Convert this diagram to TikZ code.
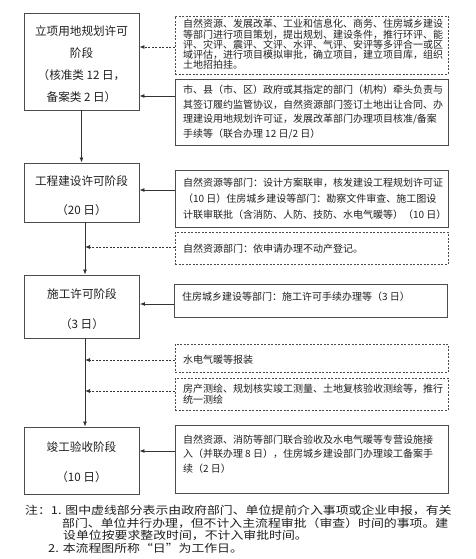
\documentclass[tikz,border=0pt]{standalone}
\usepackage{fontspec}
\usetikzlibrary{arrows.meta}
\newfontfamily\song{Noto Sans CJK SC}
\definecolor{bordercol}{gray}{0.3}
\definecolor{linecol}{gray}{0.2}
\definecolor{txtcol}{gray}{0.12}
% stage text, drawn lower by #1 without changing its reported size
\newcommand\stagetxt[2]{\raisebox{-#1}[\height][\depth]{\begin{tabular}{@{}c@{}}#2\end{tabular}}}
% side text, raised by #1 without changing its reported size
\newcommand\infotxt[2]{\raisebox{#1}[\height][\depth]{\parbox{257pt}{\raggedright #2}}}
\begin{document}
\begin{tikzpicture}[x=1pt,y=-1pt,
  stage/.style={draw=bordercol, line width=0.9pt, minimum width=115pt, inner sep=0pt,
    text=txtcol, font=\song\fontsize{11.6}{22}\selectfont},
  info/.style={draw=bordercol, line width=0.8pt, minimum width=273pt, inner xsep=8pt, inner ysep=0pt,
    text=txtcol, font=\song\fontsize{10}{14.5}\selectfont},
  infodash/.style={info, dash pattern=on 2pt off 1.5pt},
  arr/.style={draw=linecol, line width=0.8pt, -{Latex[length=5pt,width=4pt]}},
  darr/.style={arr, dash pattern=on 2pt off 1.5pt}]
\useasboundingbox (0,0) rectangle (475,559);

% main stages
\node[stage, minimum height=97pt] (b1) at (81.5,61.5)
  {\stagetxt{3pt}{立项用地规划许可\\阶段\\（核准类 12 日，\\备案类 2 日）}};
\node[stage, minimum height=59pt] (b2) at (81.5,192.5)
  {\stagetxt{3pt}{工程建设许可阶段\\[7pt]（20 日）}};
\node[stage, minimum height=63pt] (b3) at (82,306.5)
  {\stagetxt{2.5pt}{施工许可阶段\\[8pt]（3 日）}};
\node[stage, minimum height=67pt] (b4) at (81.5,460.5)
  {\stagetxt{2pt}{竣工验收阶段\\[8pt]（10 日）}};

% side boxes
\node[infodash, minimum height=58pt, font=\song\fontsize{10}{10.2}\selectfont] (r1) at (311.5,45)
  {\infotxt{0.5pt}{自然资源、发展改革、工业和信息化、商务、住房城乡建设\\等部门进行项目策划，提出规划、建设条件，推行环评、能\\评、灾评、震评、文评、水评、气评、安评等多评合一或区\\域评估，进行项目模拟审批，确立项目，建立项目库，组织\\土地招拍挂。}};
\node[info, minimum height=66pt] (r2) at (311.5,112)
  {\infotxt{0pt}{市、县（市、区）政府或其指定的部门（机构）牵头负责与\\其签订履约监管协议，自然资源部门签订土地出让合同、办\\理建设用地规划许可证，发展改革部门办理项目核准/备案\\手续等（联合办理 12 日/2 日）}};
\node[info, minimum height=57pt, font=\song\fontsize{10}{16}\selectfont] (r3) at (311.5,198.5)
  {\infotxt{0pt}{自然资源等部门：设计方案联审，核发建设工程规划许可证\\（10 日）住房城乡建设等部门：勘察文件审查、施工图设\\\mbox{计联审联批（含消防、人防、技防、水电气暖等）（10 日）}}};
\node[infodash, minimum height=32pt] (r4) at (311.5,248)
  {\infotxt{-1pt}{自然资源部门：依申请办理不动产登记。}};
\node[info, minimum height=33pt] (r5) at (310.5,300.5)
  {\infotxt{3.5pt}{住房城乡建设等部门：施工许可手续办理等（3 日）}};
\node[infodash, minimum height=28pt] (r6) at (311.5,358)
  {\infotxt{-1.5pt}{水电气暖等报装}};
\node[infodash, minimum height=32pt, font=\song\fontsize{10}{11}\selectfont] (r7) at (311.5,394)
  {\infotxt{0pt}{房产测绘、规划核实竣工测量、土地复核验收测绘等，推行\\统一测绘}};
\node[info, minimum height=68pt] (r8) at (311.5,459)
  {\infotxt{5pt}{自然资源、消防等部门联合验收及水电气暖等专营设施接\\入（并联办理 8 日），住房城乡建设部门办理竣工备案手\\续（2 日）}};

% helper coordinates
\coordinate (m) at (85,0);
\coordinate (y1) at (0,47);
\coordinate (y2) at (0,96);
\coordinate (y3) at (0,190);
\coordinate (y4) at (0,247);
\coordinate (y5) at (0,304);
\coordinate (y6) at (0,360);
\coordinate (y7) at (0,391);
\coordinate (y8) at (0,451);

% main flow
\draw[arr] (b1.south) -- (b2.north);
\draw[arr] (b2.south -| m) -- (b3.north -| m);
\draw[arr] (b3.south -| m) -- (b4.north -| m);

% side connectors
\draw[darr] (r1.west |- y1) -- (b1.east |- y1);
\draw[arr] (r2.west |- y2) -- (b1.east |- y2);
\draw[arr] (r3.west |- y3) -- (b2.east |- y3);
\draw[darr] (r4.west |- y4) -- (m |- y4);
\draw[arr] (r5.west |- y5) -- (b3.east |- y5);
\draw[darr] (r6.west |- y6) -- (m |- y6);
\draw[darr] (r7.west |- y7) -- (m |- y7);
\draw[arr] (r8.west |- y8) -- (b4.east |- y8);

% note
\node[anchor=north west, inner sep=0pt, text=txtcol,
  font=\song\fontsize{11}{11}\selectfont] (note) at (25,505)
  {\scalebox{1.17}[1]{\begin{tabular}{@{}l@{}}注：1. 图中虚线部分表示由政府部门、单位提前介入事项或企业申报，有关\\\hspace*{31.6pt}部门、单位并行办理，但不计入主流程审批（审查）时间的事项。建\\\hspace*{32.5pt}设单位按要求整改时间，不计入审批时间。\\\hspace*{19.7pt}2. 本流程图所称“日”为工作日。\end{tabular}}};
\end{tikzpicture}
\end{document}
